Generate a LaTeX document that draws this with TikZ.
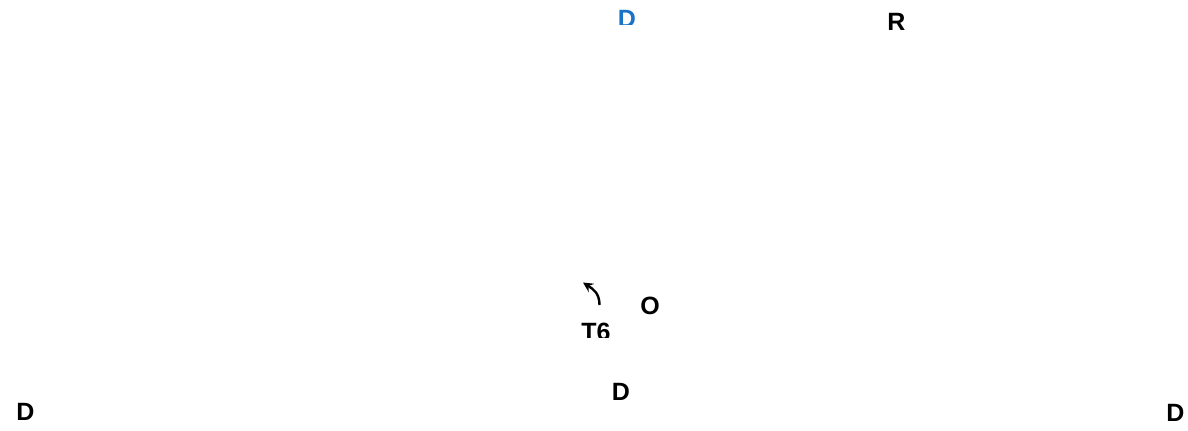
\documentclass[tikz,border=0pt]{standalone}
\usepackage{fontspec}
\setmainfont{Liberation Sans}
\usepackage{tikz}
\definecolor{pblue}{HTML}{1874C8}

\tikzset{%
  lbl/.style={inner sep=0pt, font=\fontsize{12.5}{15}\selectfont\bfseries},
}

\begin{document}
\begin{tikzpicture}[%
      x=0.5pt, y=-0.5pt,
      ]
      \useasboundingbox (0,0) rectangle (1188,430);

      \begin{scope}
        \clip (560,0) rectangle (700,24);
        \node [lbl, color=pblue] (dtop) at (627,18.5) {D};
      \end{scope}
      \node [lbl] (rtop) at (896.5,22) {R};

      \coordinate (arrs) at (599.5,305);
      \coordinate (arre) at (583,282.5);
      \draw [color=black, line width=1.2pt, -stealth] (arrs) .. controls (599.5,293) and (593,289) .. (arre);

      \node [lbl] (omid) at (650,306) {O};
      \begin{scope}
        \clip (560,300) rectangle (640,337);
        \node [lbl] (tsix) at (596,331.5) {T6};
      \end{scope}

      \node [lbl] (dmid) at (621,391.5) {D};
      \node [lbl] (dleft) at (25.5,412) {D};
      \node [lbl] (dright) at (1175.5,413) {D};
      \end{tikzpicture}
\end{document}
